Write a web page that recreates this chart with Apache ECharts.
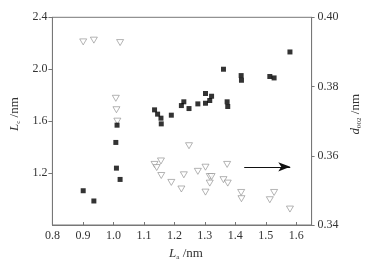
<!DOCTYPE html>
<html>
<head>
<meta charset="utf-8">
<script src="https://cdn.jsdelivr.net/npm/echarts@6/dist/echarts.min.js"></script>
<style>
  html, body { margin: 0; padding: 0; background: #fff; }
  #chart { width: 371px; height: 267px; }
</style>
</head>
<body>
<div id="chart"></div>
<script>
// La (nm) for each sample
const laValues = [0.901, 0.936, 1.012, 1.008, 1.010, 1.022, 1.135, 1.145, 1.156, 1.157,
  1.190, 1.223, 1.231, 1.248, 1.277, 1.302, 1.302, 1.316, 1.322, 1.361,
  1.373, 1.375, 1.419, 1.420, 1.513, 1.527, 1.579];
// Lc (nm), left axis
const lcValues = [1.064, 0.985, 1.569, 1.436, 1.238, 1.151, 1.687, 1.654, 1.623, 1.579,
  1.646, 1.720, 1.749, 1.697, 1.733, 1.813, 1.738, 1.759, 1.792, 2.000,
  1.749, 1.713, 1.951, 1.915, 1.944, 1.933, 2.133];

// d002 (nm), right axis
const dLa = [0.901, 0.936, 1.022, 1.008, 1.010, 1.013, 1.248, 1.135, 1.142, 1.156,
  1.157, 1.190, 1.231, 1.223, 1.277, 1.302, 1.302, 1.316, 1.322, 1.316,
  1.361, 1.373, 1.375, 1.419, 1.420, 1.513, 1.527, 1.579];
const d002Values = [0.3929, 0.3934, 0.3927, 0.3766, 0.3733, 0.3700, 0.3629, 0.3575, 0.3566, 0.3585,
  0.3543, 0.3523, 0.3545, 0.3504, 0.3555, 0.3567, 0.3495, 0.3540, 0.3540, 0.3521,
  0.3531, 0.3575, 0.3521, 0.3494, 0.3476, 0.3473, 0.3494, 0.3446];

// arrow pointing at the right axis
const arrowFrom = [1.429, 0.3568];
const arrowTo = [1.580, 0.3568];

const leftTicks = { min: 0.8, max: 2.4, interval: 0.4 };
const rightTicks = { min: 0.34, max: 0.40, interval: 0.02 };
const xTicks = { min: 0.8, max: 1.65, interval: 0.1 };

const font = "Liberation Serif";
const textColor = "#333";
const lineColor = "#777";

const chart = echarts.init(document.getElementById("chart"));

const subRich = {
  i: { fontFamily: font, fontStyle: "italic", fontSize: 13, color: textColor },
  s: { fontFamily: font, fontSize: 7, color: textColor, verticalAlign: "bottom", padding: [7, 0, 0, 0] },
  n: { fontFamily: font, fontSize: 13, color: textColor },
};

const option = {
  animation: false,
  grid: {
    left: 39.3,
    right: 59.3,
    top: 17.3,
    bottom: 42,
    show: true,
    borderColor: lineColor,
    borderWidth: 1,
    backgroundColor: "transparent",
  },
  xAxis: {
    type: "value",
    min: xTicks.min,
    max: xTicks.max,
    interval: xTicks.interval,
    name: "{i|L}{s|a}{n| /nm}",
    nameLocation: "middle",
    nameGap: 21,
    nameTextStyle: { rich: subRich, padding: [0, 0, 0, 8] },
    axisLine: { lineStyle: { color: lineColor } },
    axisTick: { inside: true, length: 3, lineStyle: { color: lineColor } },
    axisLabel: {
      margin: 5,
      fontFamily: font,
      fontSize: 12,
      color: textColor,
      showMaxLabel: false,
      formatter: (v) => v.toFixed(1),
    },
    splitLine: { show: false },
  },
  yAxis: [
    {
      type: "value",
      position: "left",
      min: leftTicks.min,
      max: leftTicks.max,
      interval: leftTicks.interval,
      name: "{i|L}{s|c}{n| /nm}",
      nameLocation: "middle",
      nameRotate: 90,
      nameGap: 20,
      nameTextStyle: { rich: subRich, padding: [0, 0, 0, 14] },
      axisLine: { show: true, lineStyle: { color: lineColor } },
      axisTick: { show: true, length: 4, lineStyle: { color: lineColor } },
      axisLabel: {
        margin: 5,
        fontFamily: font,
        fontSize: 12,
        color: textColor,
        showMinLabel: false,
        formatter: (v) => v.toFixed(1),
      },
      splitLine: { show: false },
    },
    {
      type: "value",
      position: "right",
      min: rightTicks.min,
      max: rightTicks.max,
      interval: rightTicks.interval,
      name: "{i|d}{s|002}{n| /nm}",
      nameLocation: "middle",
      nameRotate: 90,
      nameGap: 27,
      nameTextStyle: { rich: subRich, padding: [0, 0, 0, 14] },
      axisLine: { show: true, lineStyle: { color: lineColor } },
      axisTick: { show: true, length: 3, lineStyle: { color: lineColor } },
      axisLabel: {
        margin: 6,
        fontFamily: font,
        fontSize: 12,
        color: textColor,
        formatter: (v) => v.toFixed(2),
      },
      splitLine: { show: false },
    },
  ],
  series: [
    {
      name: "d002",
      type: "scatter",
      yAxisIndex: 1,
      symbol: "triangle",
      symbolRotate: 180,
      symbolSize: [7, 6],
      itemStyle: { color: "#fff", borderColor: "#8a8a8a", borderWidth: 0.8 },
      data: dLa.map((x, i) => [x, d002Values[i]]),
      markLine: {
        silent: true,
        symbol: ["none", "arrow"],
        symbolSize: [7, 12],
        label: { show: false },
        lineStyle: { color: "#111", width: 1.2, type: "solid" },
        data: [[{ coord: arrowFrom }, { coord: arrowTo }]],
      },
    },
    {
      name: "Lc",
      type: "scatter",
      yAxisIndex: 0,
      symbol: "rect",
      symbolSize: 5,
      itemStyle: { color: "#000" },
      data: laValues.map((x, i) => [x, lcValues[i]]),
    },
  ],
};

chart.setOption(option);
</script>
</body>
</html>
